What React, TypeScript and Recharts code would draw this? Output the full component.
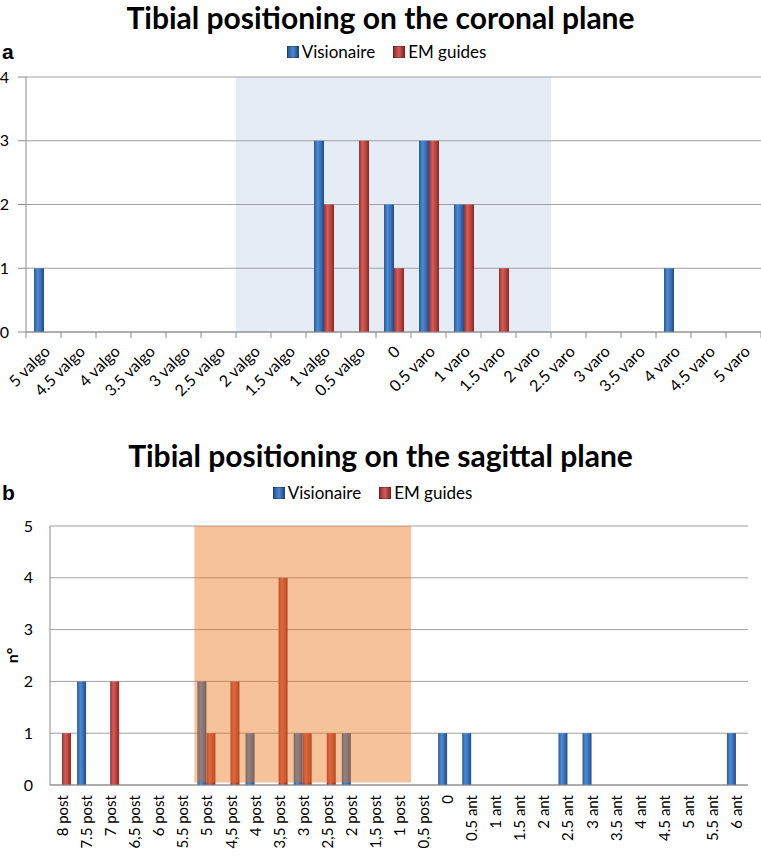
import { BarChart, Bar, XAxis, YAxis, CartesianGrid, ReferenceArea, Legend } from "recharts";

const coronalCategories = [
  "5 valgo", "4.5 valgo", "4 valgo", "3.5 valgo", "3 valgo", "2.5 valgo", "2 valgo",
  "1.5 valgo", "1 valgo", "0.5 valgo", "0", "0.5 varo", "1 varo", "1.5 varo", "2 varo",
  "2.5 varo", "3 varo", "3.5 varo", "4 varo", "4.5 varo", "5 varo",
];
const coronalVisionaire = [1, 0, 0, 0, 0, 0, 0, 0, 3, 0, 2, 3, 2, 0, 0, 0, 0, 0, 1, 0, 0];
const coronalEM = [0, 0, 0, 0, 0, 0, 0, 0, 2, 3, 1, 3, 2, 1, 0, 0, 0, 0, 0, 0, 0];
const coronalTicks = [0, 1, 2, 3, 4];

const sagittalCategories = [
  "8 post", "7.5 post", "7 post", "6,5 post", "6 post", "5.5 post", "5 post", "4,5 post",
  "4 post", "3,5 post", "3 post", "2,5 post", "2 post", "1,5 post", "1 post", "0,5 post",
  "0", "0.5 ant", "1 ant", "1.5 ant", "2 ant", "2.5 ant", "3 ant", "3.5 ant", "4 ant",
  "4.5 ant", "5 ant", "5.5 ant", "6 ant",
];
const sagittalVisionaire = [0, 2, 0, 0, 0, 0, 2, 0, 1, 0, 1, 0, 1, 0, 0, 0, 1, 1, 0, 0, 0, 1, 1, 0, 0, 0, 0, 0, 1];
const sagittalEM = [1, 0, 2, 0, 0, 0, 1, 2, 0, 4, 1, 1, 0, 0, 0, 0, 0, 0, 0, 0, 0, 0, 0, 0, 0, 0, 0, 0, 0];
const sagittalTicks = [0, 1, 2, 3, 4, 5];

const coronalData = coronalCategories.map((name, i) => ({
  name,
  visionaire: coronalVisionaire[i],
  em: coronalEM[i],
}));
const sagittalData = sagittalCategories.map((name, i) => ({
  name,
  visionaire: sagittalVisionaire[i],
  em: sagittalEM[i],
}));

const FONT = "Lato, 'Open Sans', sans-serif";
const GRID = "#a0a0a0";
const AXIS = "#8c8c8c";

function BarGradients({ prefix }: { prefix: string }) {
  return (
    <defs>
      <linearGradient id={`${prefix}-blue`} x1="0" y1="0" x2="1" y2="0">
        <stop offset="0%" stopColor="#2a5a98" />
        <stop offset="35%" stopColor="#4b8ad4" />
        <stop offset="65%" stopColor="#3a72bb" />
        <stop offset="100%" stopColor="#234b85" />
      </linearGradient>
      <linearGradient id={`${prefix}-red`} x1="0" y1="0" x2="1" y2="0">
        <stop offset="0%" stopColor="#9a302d" />
        <stop offset="35%" stopColor="#d35d59" />
        <stop offset="65%" stopColor="#c0443f" />
        <stop offset="100%" stopColor="#8a2826" />
      </linearGradient>
    </defs>
  );
}

function LegendKey() {
  const sq = (bg: string) => (
    <span
      style={{
        display: "inline-block",
        width: 10,
        height: 10,
        marginRight: 3,
        background: bg,
        border: "1px solid rgba(0,0,0,0.25)",
      }}
    />
  );
  return (
    <div
      style={{
        display: "flex",
        justifyContent: "center",
        gap: 18,
        fontFamily: FONT,
        fontSize: 17,
        color: "#000",
        lineHeight: "20px",
      }}
    >
      <span style={{ display: "flex", alignItems: "center" }}>
        {sq("linear-gradient(90deg,#2a5a98,#4b8ad4,#234b85)")}Visionaire
      </span>
      <span style={{ display: "flex", alignItems: "center" }}>
        {sq("linear-gradient(90deg,#9a302d,#d35d59,#8a2826)")}EM guides
      </span>
    </div>
  );
}

// diagonal labels with tick marks between categories, as in the source
function CoronalTick(props: any) {
  const { x, y, payload, index, visibleTicksCount } = props;
  const half = payload.offset ?? 17.5;
  const last = index === visibleTicksCount - 1;
  const lx = x + 3;
  const ly = y + 16;
  return (
    <g>
      <line x1={x - half} x2={x - half} y1={y} y2={y + 6} stroke={AXIS} />
      {last && <line x1={x + half} x2={x + half} y1={y} y2={y + 6} stroke={AXIS} />}
      <text
        x={lx}
        y={ly}
        transform={`rotate(-45 ${lx} ${ly})`}
        textAnchor="end"
        dominantBaseline="central"
        fontFamily={FONT}
        fontSize={16}
        fill="#000"
      >
        {payload.value}
      </text>
    </g>
  );
}

function SagittalTick(props: any) {
  const { x, y, payload } = props;
  return (
    <text
      x={x}
      y={y + 10}
      transform={`rotate(-90 ${x} ${y + 10})`}
      textAnchor="end"
      dominantBaseline="central"
      fontFamily={FONT}
      fontSize={15}
      fill="#000"
    >
      {payload.value}
    </text>
  );
}

const titleStyle = {
  position: "absolute" as const,
  left: 0,
  width: 761,
  textAlign: "center" as const,
  fontFamily: FONT,
  fontWeight: 700,
  fontSize: 30,
  lineHeight: "34px",
  color: "#000",
};

const letterStyle = {
  position: "absolute" as const,
  left: 2,
  fontFamily: "'Liberation Sans', Arial, sans-serif",
  fontWeight: 700,
  fontSize: 21,
  lineHeight: "24px",
  color: "#000",
};

export default function App() {
  return (
    <div
      style={{
        position: "absolute",
        left: 0,
        top: 0,
        width: 761,
        height: 857,
        background: "#fff",
        overflow: "hidden",
      }}
    >
      <div style={{ position: "absolute", left: 0, top: 0 }}>
        <BarChart
          width={761}
          height={400}
          data={coronalData}
          margin={{ top: 77, right: 0, left: 0, bottom: 0 }}
          barGap={0}
        >
          <BarGradients prefix="cor" />
          <ReferenceArea
            x1="2 valgo"
            x2="2 varo"
            y1={0}
            y2={4}
            fill="#e5ecf6"
            fillOpacity={1}
            stroke="none"
            zIndex={-200}
          />
          <CartesianGrid vertical={false} stroke={GRID} />
          <XAxis
            dataKey="name"
            interval={0}
            height={68}
            stroke={AXIS}
            tickLine={false}
            tickSize={0}
            tickMargin={0}
            tick={<CoronalTick />}
          />
          <YAxis
            width={26}
            domain={[0, 4]}
            ticks={coronalTicks}
            stroke={AXIS}
            tickSize={8}
            tickMargin={9}
            tick={{ fill: "#000", fontSize: 16, fontFamily: FONT }}
          />
          <Legend
            verticalAlign="middle"
            align="center"
            wrapperStyle={{ top: 42, left: 6, width: 761 }}
            content={() => <LegendKey />}
          />
          <Bar dataKey="visionaire" name="Visionaire" fill="url(#cor-blue)" barSize={10} isAnimationActive={false} />
          <Bar dataKey="em" name="EM guides" fill="url(#cor-red)" barSize={10} isAnimationActive={false} />
        </BarChart>
      </div>

      <div style={{ position: "absolute", left: 0, top: 400 }}>
        <BarChart
          width={761}
          height={457}
          data={sagittalData}
          margin={{ top: 126, right: 13, left: 0, bottom: 0 }}
          barGap={0}
        >
          <BarGradients prefix="sag" />
          <CartesianGrid vertical={false} stroke={GRID} />
          <XAxis
            dataKey="name"
            interval={0}
            height={72}
            stroke={AXIS}
            tickLine={false}
            tickSize={0}
            tickMargin={0}
            tick={<SagittalTick />}
          />
          <YAxis
            width={50}
            domain={[0, 5]}
            ticks={sagittalTicks}
            stroke={AXIS}
            tickLine={false}
            tickSize={0}
            tickMargin={17}
            tick={{ fill: "#000", fontSize: 16, fontFamily: FONT }}
            label={{
              value: "n°",
              angle: -90,
              position: "insideLeft",
              offset: 12,
              style: { textAnchor: "middle", fontWeight: 700, fontSize: 16, fontFamily: FONT, fill: "#000" },
            }}
          />
          <Legend
            verticalAlign="middle"
            align="center"
            wrapperStyle={{ top: 83, left: -8, width: 761 }}
            content={() => <LegendKey />}
          />
          <Bar dataKey="visionaire" name="Visionaire" fill="url(#sag-blue)" barSize={9} isAnimationActive={false} />
          <Bar dataKey="em" name="EM guides" fill="url(#sag-red)" barSize={9} isAnimationActive={false} />
          {/* translucent orange band sits on top of the bars */}
          <ReferenceArea
            x1="5 post"
            x2="1 post"
            y1={0.05}
            y2={5}
            fill="#e8781e"
            fillOpacity={0.45}
            stroke="none"
            zIndex={1500}
          />
        </BarChart>
      </div>

      <div style={{ ...titleStyle, top: 0 }}>Tibial positioning on the coronal plane</div>
      <div style={{ ...letterStyle, top: 40 }}>a</div>
      <div style={{ ...titleStyle, top: 438 }}>Tibial positioning on the sagittal plane</div>
      <div style={{ ...letterStyle, top: 481 }}>b</div>
    </div>
  );
}
